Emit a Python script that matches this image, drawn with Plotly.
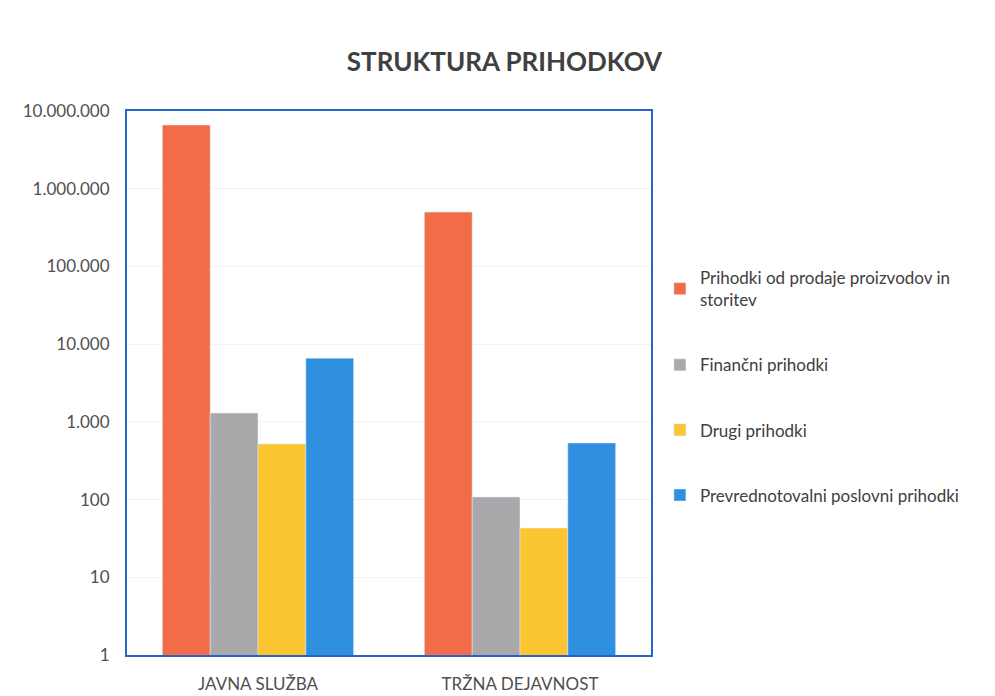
import plotly.graph_objects as go

categories = ["JAVNA SLUŽBA", "TRŽNA DEJAVNOST"]
series_names = [
    "Prihodki od prodaje proizvodov in<br>storitev",
    "Finančni prihodki",
    "Drugi prihodki",
    "Prevrednotovalni poslovni prihodki",
]
prodaja = [6600000, 500000]
financni = [1300, 108]
drugi = [520, 43]
prevrednotovalni = [6600, 535]
colors = ["#F26C47", "#A9A9AB", "#FCC532", "#2F90E0"]

fig = go.Figure()
for i, (name, vals) in enumerate(zip(series_names, [prodaja, financni, drugi, prevrednotovalni])):
    fig.add_trace(go.Bar(x=categories, y=vals, name=name, marker_color=colors[i],
                         legendgroup=str(i)))

fig.update_yaxes(
    type="log",
    range=[0, 7],
    dtick=1,
    tickformat=",d",
    showgrid=True,
    gridcolor="#F2F2F2",
    showline=True,
    mirror=True,
    linecolor="#2465C8",
    linewidth=2,
    ticks="",
    ticklabelstandoff=12,
    automargin=False,
    tickfont=dict(size=17, color="#505050"),
)
fig.update_xaxes(
    showline=True,
    mirror=True,
    linecolor="#2465C8",
    linewidth=2,
    ticklabelstandoff=13,
    automargin=False,
    tickfont=dict(size=17, color="#505050"),
)
fig.update_layout(
    title=dict(text="STRUKTURA PRIHODKOV", x=0.503, xanchor="center",
               y=0.9215, yanchor="middle",
               font=dict(size=26, color="#404040", weight="bold")),
    separators=",.",
    barmode="group",
    bargap=0.27,
    bargroupgap=0,
    plot_bgcolor="white",
    paper_bgcolor="white",
    font=dict(family="Lato, Open Sans, sans-serif", color="#404040"),
    legend=dict(x=1.017, xanchor="left", y=0.726, yanchor="top",
                bgcolor="rgba(0,0,0,0)",
                font=dict(size=17), tracegroupgap=40, traceorder="grouped"),
    margin=dict(l=119, r=344, t=103, b=41),
    width=987,
    height=688,
)

fig.write_html("out.html")
